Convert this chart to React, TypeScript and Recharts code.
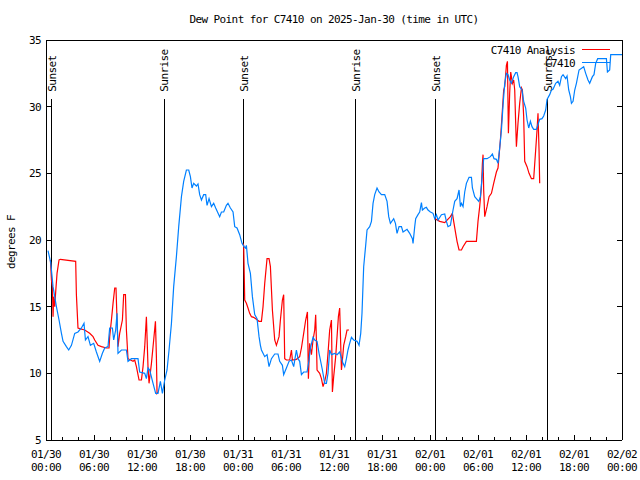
import React from "react";
import { LineChart, Line, XAxis, YAxis, ReferenceLine } from "recharts";

// hours since 01/30 00:00 UTC
const blueHours = [
  0.25, 0.59, 0.88, 1.09, 1.3, 1.63, 1.93, 2.13, 2.55, 2.84, 3.18, 3.59, 4.0, 4.43, 4.75, 4.93,
  5.25, 5.55, 5.96, 6.3, 6.71, 7.05, 7.34, 7.75, 7.96, 8.3, 8.46, 8.71, 8.88, 9.0, 9.43, 10.05,
  10.25, 10.68, 11.5, 11.71, 12.34, 12.55, 12.75, 12.96, 13.38, 13.71, 14.0, 14.3, 14.55, 14.84,
  15.13, 15.38, 15.68, 15.96, 16.3, 16.59, 16.93, 17.21, 17.55, 17.84, 18.05, 18.25, 18.46, 18.8,
  19.0, 19.21, 19.43, 19.71, 19.96, 20.13, 20.38, 20.68, 20.96, 21.21, 21.71, 21.93, 22.21, 22.55,
  22.75, 23.05, 23.38, 23.59, 23.88, 24.21, 24.5, 24.75, 24.93, 25.05, 25.25, 25.55, 25.8, 26.09,
  26.38, 26.63, 26.8, 26.93, 27.13, 27.34, 27.63, 27.88, 28.18, 28.59, 29.0, 29.21, 29.55, 29.71,
  30.05, 30.38, 30.68, 30.96, 31.3, 31.5, 31.71, 31.93, 32.21, 32.63, 32.88, 33.05, 33.38, 33.59,
  33.88, 34.13, 34.3, 34.55, 34.84, 35.05, 35.25, 35.46, 35.68, 36.09, 36.38, 36.71, 37.13, 37.34,
  37.55, 37.75, 37.96, 38.18, 38.46, 38.88, 39.13, 39.34, 39.5, 39.71, 39.96, 40.13, 40.46, 40.68,
  40.88, 41.09, 41.38, 41.63, 41.93, 42.34, 42.63, 42.84, 43.05, 43.46, 43.68, 43.88, 44.13, 44.43,
  44.63, 45.13, 45.46, 45.8, 45.88, 46.09, 46.21, 46.5, 46.71, 46.93, 47.05, 47.34, 47.55, 47.75,
  48.05, 48.38, 48.59, 48.8, 49.0, 49.43, 49.84, 50.05, 50.25, 50.55, 50.88, 51.09, 51.38, 51.63,
  51.8, 51.93, 52.13, 52.34, 52.55, 52.88, 53.18, 53.3, 53.59, 53.8, 54.09, 54.3, 54.5, 54.71,
  55.13, 55.55, 55.8, 56.0, 56.3, 56.5, 56.71, 56.93, 57.13, 57.34, 57.55, 57.75, 57.96, 58.18,
  58.46, 58.71, 58.88, 59.0, 59.21, 59.5, 59.71, 59.96, 60.13, 60.34, 60.55, 60.75, 60.96, 61.3,
  61.71, 62.0, 62.21, 62.46, 62.63, 62.96, 63.18, 63.38, 63.71, 64.0, 64.21, 64.43, 64.63, 64.96,
  65.13, 65.34, 65.55, 65.68, 65.88, 66.09, 66.3, 66.63, 67.21, 67.46, 67.75, 67.96, 68.3, 68.5,
  68.71, 68.96, 70.05, 70.18, 70.46, 70.59, 72,
];
const blueTemps = [
  19.2, 18.3, 16.5, 15.75, 15.0, 14.0, 13.0, 12.4, 12.0, 11.75, 12.1, 13.0, 13.1, 13.4, 13.75, 12.5,
  12.75, 12.1, 12.25, 11.6, 10.9, 11.5, 11.9, 12.0, 13.4, 13.4, 12.5, 13.25, 14.5, 11.5, 11.75, 11.75,
  10.9, 11.1, 11.1, 10.1, 10.0, 9.6, 10.4, 10.25, 9.25, 8.5, 8.5, 9.4, 8.5, 9.5,
  10.25, 11.75, 13.75, 16.5, 18.75, 21.0, 23.25, 24.4, 25.25, 25.25, 24.75, 23.9, 24.25, 24.05,
  24.2, 23.4, 23.0, 23.4, 23.4, 22.6, 23.1, 22.5, 22.75, 22.4, 21.75, 22.1, 22.1, 22.6,
  22.75, 22.4, 22.1, 21.0, 20.9, 20.4, 19.75, 19.5, 19.4, 19.6, 18.25, 17.5, 15.75, 14.4,
  14.1, 12.75, 12.1, 11.75, 11.5, 11.25, 11.4, 10.5, 11.1, 11.45, 11.45, 10.9, 10.6, 9.9,
  10.4, 10.9, 11.0, 10.5, 11.75, 11.1, 10.9, 9.9, 10.1, 10.1, 11.0, 11.9, 12.7, 12.5,
  12.4, 11.5, 11.0, 10.25, 9.25, 9.25, 10.0, 11.75, 11.4, 11.5, 11.4, 11.6, 10.75, 10.5,
  11.1, 11.75, 12.25, 12.7, 12.5, 12.4, 12.1, 13.0, 14.5, 18.0, 19.6, 20.75, 21.0, 21.4,
  22.75, 23.4, 23.9, 23.6, 23.4, 23.4, 22.9, 21.75, 21.25, 21.6, 21.25, 20.5, 21.0, 21.0,
  20.6, 20.8, 20.5, 20.1, 19.75, 21.0, 21.6, 21.9, 22.1, 22.8, 22.25, 22.4, 22.45, 22.25,
  22.1, 22.0, 21.6, 21.9, 21.5, 21.9, 21.95, 21.4, 21.0, 21.1, 22.25, 22.9, 23.1, 23.75,
  22.5, 22.75, 22.5, 23.6, 24.25, 24.7, 24.7, 23.9, 23.25, 23.1, 22.9, 23.25, 24.6, 26.1,
  26.1, 26.25, 26.45, 26.1, 26.05, 25.75, 26.9, 28.25, 30.1, 31.75, 32.5, 32.4, 32.0, 31.75,
  32.25, 32.55, 32.55, 32.25, 31.5, 31.25, 30.4, 29.9, 29.0, 28.4, 28.9, 28.5, 28.3, 28.3,
  29.05, 29.1, 29.3, 29.75, 30.55, 30.9, 31.25, 31.3, 31.75, 31.9, 31.6, 32.25, 32.4, 32.1,
  32.3, 31.25, 30.75, 30.25, 30.4, 31.25, 31.75, 32.75, 33.0, 32.5, 32.0, 31.75, 32.25, 32.4,
  33.25, 33.6, 33.6, 32.6, 32.75, 33.9, 33.9,
];

// analysis series, null = gap
const redHours = [
  0.55, 0.68, 0.8, 0.88, 0.96, 1.09, 1.21, 1.38, 1.63, 1.8, 3.71, 3.8, 4.0, 4.21, 4.84, 5.46,
  5.88, 6.09, 6.5, 6.93, 7.55, 7.88, 7.96, 8.18, 8.38, 8.59, 8.75, 8.88, 9.0, 9.21, 9.55, 9.71,
  9.93, 10.05, 10.25, 10.88, 11.09, 11.3, 11.63, 11.93, 12.13, 12.34, 12.55, 12.75, 12.88, 13.18,
  13.46, 13.68, 13.8, 13.88, 14.0, 14.3,
  24.63, 24.71, 24.84, 25.05, 25.25, 25.46, 25.68, 25.96, 26.3, 26.63, 26.93, 27.13, 27.34, 27.63,
  27.88, 28.05, 28.3, 28.59, 28.8, 29.13, 29.3, 29.55, 29.71, 29.84, 30.05, 30.46, 30.68, 30.8,
  31.3, 31.71, 31.93, 32.21, 32.46, 32.68, 32.8, 32.96, 33.18, 33.38, 33.59, 33.71, 33.8, 33.88,
  34.21, 34.43, 34.63, 34.84, 35.05, 35.25, 35.46, 35.68, 35.8, 35.96, 36.21, 36.38, 36.55, 36.71,
  36.93, 37.05, 37.21, 37.46, 37.63, 37.88, 38.2,
  48.63, 49.21, 49.84, 50.55, 50.8, 50.96, 51.21, 51.38, 51.63, 51.93, 52.13, 52.55, 53.8, 54.0,
  54.21, 54.43, 54.55, 54.63, 54.71, 54.84, 55.13, 55.38, 55.68, 55.96, 56.3, 56.5, 56.8, 57.05,
  57.21, 57.34, 57.55, 57.68, 57.8, 57.96, 58.09, 58.3, 58.46, 58.59, 58.71, 58.8, 59.0, 59.21,
  59.43, 59.55, 59.71, 59.84, 60.13, 60.38, 60.68, 60.96, 61.21, 61.38, 61.5, 61.63, 61.71,
];
const redTemps = [
  18.5, 17.0, 16.5, 14.25, 15.75, 15.0, 16.1, 17.5, 18.5, 18.55, 18.4, 15.9, 13.4, 13.35, 13.25, 13.0,
  12.75, 12.5, 12.1, 12.0, 11.9, 11.9, 12.75, 14.0, 15.25, 16.4, 16.4, 14.0, 12.0, 13.0, 14.0, 15.9,
  15.9, 13.25, 11.1, 10.9, 11.0, 10.5, 9.5, 9.5, 10.5, 12.0, 14.25, 10.5, 9.25, 10.75,
  12.5, 13.9, 11.25, 8.5, 8.6, null,
  19.75, 19.6, 15.5, 15.25, 14.9, 14.5, 14.25, 14.2, 14.05, 13.9, 13.9, 15.0, 16.75, 18.6,
  18.6, 18.0, 14.75, 12.5, 12.1, 12.75, 14.0, 15.5, 15.9, 11.1, 11.0, 11.0, 11.75, 11.0,
  11.05, 11.25, 11.9, 13.0, 14.0, 14.6, 9.6, 12.25, 11.4, 12.5, 13.25, 14.4, 12.5, 10.25,
  10.0, 9.6, 9.0, 9.4, 10.0, 11.5, 13.25, 14.0, 8.6, 9.75, 11.25, 12.75, 14.25, 14.9,
  10.25, 11.0, 12.1, 12.75, 13.25, 13.25, null,
  21.6, 21.4, 21.3, 21.75, 22.0, 21.4, 20.5, 19.9, 19.25, 19.25, 19.5, 19.9, 19.9, 21.4,
  22.5, 24.0, 25.75, 26.4, 23.75, 21.75, 22.5, 23.25, 23.5, 24.25, 25.1, 25.4, 27.5, 29.75,
  31.25, 31.5, 33.1, 33.4, 28.0, 31.0, 32.6, 31.75, 32.0, 31.25, 28.75, 27.0, 28.75, 30.25,
  31.4, 31.25, 29.25, 25.9, 25.5, 25.0, 24.6, 24.6, 26.75, 28.25, 29.5, 26.75, 24.25,
];

const sunHours = [0.68, 14.75, 24.63, 38.63, 48.65, 62.63];
const sunNames = ["Sunset", "Sunrise", "Sunset", "Sunrise", "Sunset", "Sunrise"];

const xTicks = [
  0, 2, 4, 6, 8, 10, 12, 14, 16, 18, 20, 22, 24, 26, 28, 30, 32, 34, 36, 38, 40, 42, 44, 46, 48,
  50, 52, 54, 56, 58, 60, 62, 64, 66, 68, 70, 72,
];
const xTickDates = ["01/30", "01/30", "01/30", "01/30", "01/31", "01/31", "01/31", "01/31", "02/01", "02/01", "02/01", "02/01", "02/02"];
const xTickTimes = ["00:00", "06:00", "12:00", "18:00", "00:00", "06:00", "12:00", "18:00", "00:00", "06:00", "12:00", "18:00", "00:00"];
const yTicks = [5, 10, 15, 20, 25, 30, 35];

const blueData = blueHours.map((h, i) => ({ h, v: blueTemps[i] }));
const redData = redHours.map((h, i) => ({ h, v: redTemps[i] }));

const FONT = "'DejaVu Sans Mono', monospace";
const txt = { fontFamily: FONT, fontSize: 11, letterSpacing: -0.6, fill: "#000" };

const BottomTick = (props: any) => {
  const { x, y, payload } = props;
  const h = payload.value;
  const major = h % 6 === 0;
  const i = h / 6;
  return (
    <g>
      <line x1={x} x2={x} y1={y} y2={y - (major ? 5 : 3)} stroke="#000" shapeRendering="crispEdges" />
      {major && (
        <>
          <text x={x} y={y + 18} textAnchor="middle" style={txt}>{xTickDates[i]}</text>
          <text x={x} y={y + 31} textAnchor="middle" style={txt}>{xTickTimes[i]}</text>
        </>
      )}
    </g>
  );
};

const TopTick = (props: any) => {
  const { x, y, payload } = props;
  const major = payload.value % 6 === 0;
  return <line x1={x} x2={x} y1={y} y2={y + (major ? 5 : 3)} stroke="#000" shapeRendering="crispEdges" />;
};

const LeftTick = (props: any) => {
  const { x, y, payload } = props;
  return (
    <g>
      <line x1={x} x2={x + 5} y1={y} y2={y} stroke="#000" shapeRendering="crispEdges" />
      <text x={x - 5} y={y + 4} textAnchor="end" style={txt}>{payload.value}</text>
    </g>
  );
};

const RightTick = (props: any) => {
  const { x, y } = props;
  return <line x1={x} x2={x - 5} y1={y} y2={y} stroke="#000" shapeRendering="crispEdges" />;
};

const SunLabel = (name: string) => (props: any) => {
  const vb = props.viewBox || {};
  const x = vb.x + 1;
  const y = vb.y - 7;
  return (
    <text x={x} y={y} transform={`rotate(-90 ${x} ${y})`} textAnchor="start" dominantBaseline="central" style={txt}>
      {name}
    </text>
  );
};

const axisLine = { stroke: "#000", shapeRendering: "crispEdges" };

export default function App() {
  return (
    <div style={{ position: "absolute", left: 0, top: 0, width: 640, height: 480, background: "#fff" }}>
      <LineChart width={640} height={480} margin={{ top: 39, right: 0, bottom: 0, left: 0 }}>
        <XAxis
          dataKey="h"
          type="number"
          domain={[0, 72]}
          ticks={xTicks}
          interval={0}
          allowDataOverflow
          height={40}
          tickSize={0}
          tickMargin={0}
          tickLine={false}
          axisLine={axisLine}
          tick={(p: any) => <BottomTick {...p} />}
        />
        <XAxis
          xAxisId="top"
          orientation="top"
          type="number"
          domain={[0, 72]}
          ticks={xTicks}
          interval={0}
          allowDataOverflow
          height={1}
          tickSize={0}
          tickMargin={0}
          tickLine={false}
          axisLine={axisLine}
          tick={(p: any) => <TopTick {...p} />}
        />
        <YAxis
          type="number"
          domain={[5, 35]}
          ticks={yTicks}
          interval={0}
          allowDataOverflow
          width={46}
          tickSize={0}
          tickMargin={0}
          tickLine={false}
          axisLine={axisLine}
          tick={(p: any) => <LeftTick {...p} />}
        />
        <YAxis
          yAxisId="right"
          orientation="right"
          type="number"
          domain={[5, 35]}
          ticks={yTicks}
          interval={0}
          allowDataOverflow
          width={18}
          tickSize={0}
          tickMargin={0}
          tickLine={false}
          axisLine={axisLine}
          tick={(p: any) => <RightTick {...p} />}
        />
        {sunHours.map((h, i) => (
          <ReferenceLine
            key={i}
            segment={[{ x: h, y: 30.6 }, { x: h, y: 5 }]}
            stroke="#000"
            strokeWidth={1}
            shapeRendering="crispEdges"
            label={SunLabel(sunNames[i])}
          />
        ))}
        <Line
          data={redData}
          dataKey="v"
          type="linear"
          stroke="#ff0000"
          strokeWidth={1.2}
          dot={false}
          activeDot={false}
          connectNulls={false}
          isAnimationActive={false}
        />
        <Line
          data={blueData}
          dataKey="v"
          type="linear"
          stroke="#0080ff"
          strokeWidth={1.2}
          dot={false}
          activeDot={false}
          isAnimationActive={false}
        />
      </LineChart>
      <svg width={640} height={480} style={{ position: "absolute", left: 0, top: 0, pointerEvents: "none" }}>
        <text x={334} y={23} textAnchor="middle" style={txt}>
          Dew Point for C7410 on 2025-Jan-30 (time in UTC)
        </text>
        <text x={11} y={242} transform="rotate(-90 11 242)" textAnchor="middle" dominantBaseline="central" style={txt}>
          degrees F
        </text>
        <text x={575} y={54} textAnchor="end" style={txt}>C7410 Analysis</text>
        <line x1={582} x2={610} y1={49.5} y2={49.5} stroke="#ff0000" />
        <text x={575} y={67} textAnchor="end" style={txt}>C7410</text>
        <line x1={582} x2={610} y1={62.5} y2={62.5} stroke="#0080ff" />
      </svg>
    </div>
  );
}
